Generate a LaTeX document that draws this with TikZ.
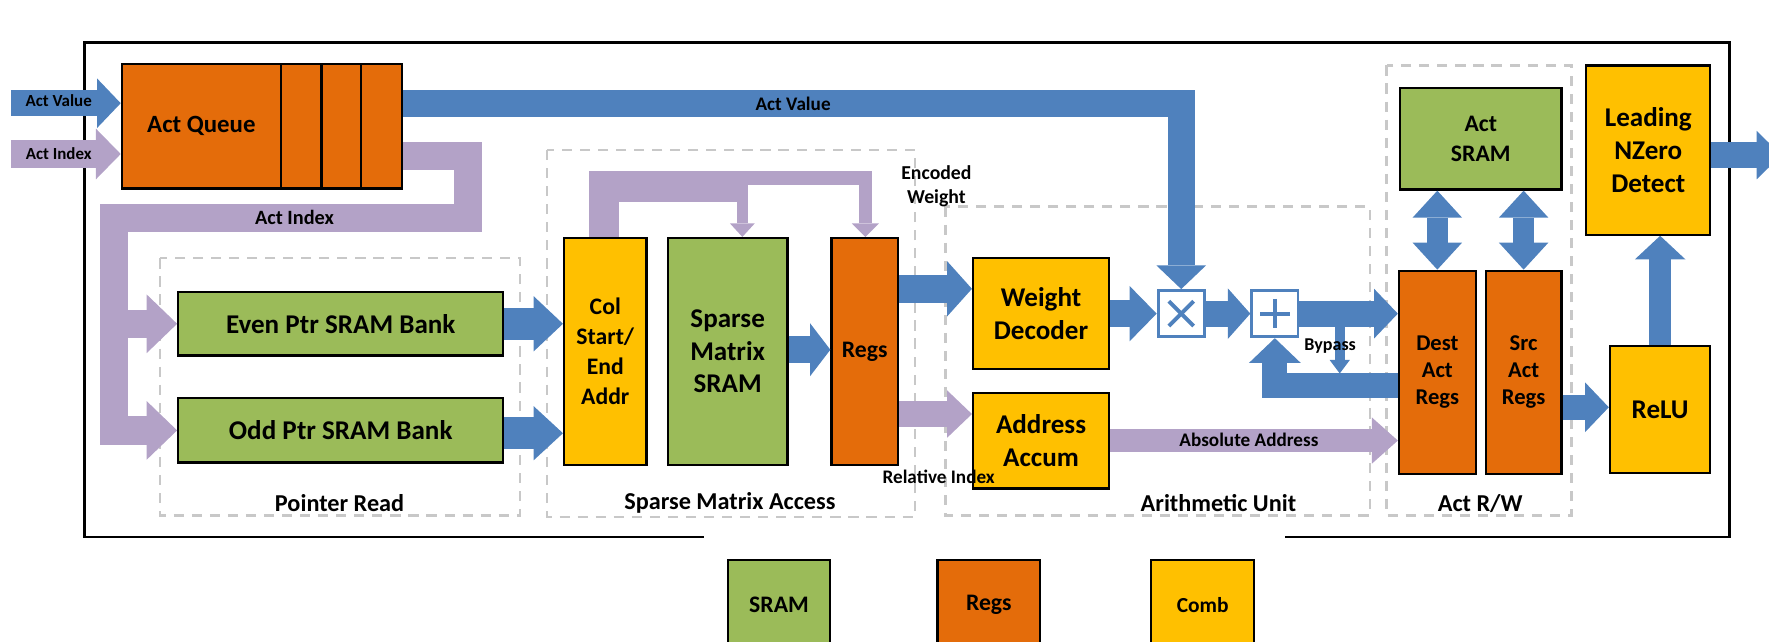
\documentclass[tikz,border=0pt]{standalone}
\usepackage{fontspec}
\setmainfont{Carlito}
\usetikzlibrary{arrows.meta}
\definecolor{cblue}{HTML}{4F81BD}
\definecolor{cpurp}{HTML}{B3A2C7}
\definecolor{corange}{HTML}{E46C0A}
\definecolor{cgreen}{HTML}{9BBB59}
\definecolor{cyellow}{HTML}{FFC000}
\definecolor{cdash}{HTML}{C8C8C8}
\newcommand\fz[2]{\fontsize{#1pt}{#2pt}\selectfont\bfseries}
\tikzset{
  blk/.style={draw=black, line width=2pt, inner sep=0pt, align=center, text=black},
  sramb/.style={blk, fill=cgreen},
  regb/.style={blk, fill=corange},
  combb/.style={blk, fill=cyellow},
  grp/.style={draw=cdash, line width=2pt, dash pattern=on 9pt off 7pt},
  bflow/.style={draw=cblue},
  pflow/.style={draw=cpurp},
  fat/.style n args={3}{line width=#1pt, -{Triangle[length=#2pt,width=#3pt,line width=0pt]}},
  fatboth/.style n args={3}{line width=#1pt, {Triangle[length=#2pt,width=#3pt,line width=0pt]}-{Triangle[length=#2pt,width=#3pt,line width=0pt]}},
  lbl/.style={inner sep=0pt, align=center, text=black},
  opbox/.style={draw=cblue, line width=2.5pt, fill=white, minimum size=41pt, inner sep=0pt},
  opsym/.style={draw=cblue, line width=3.5pt},
}
\begin{document}
\begin{tikzpicture}[x=1pt, y=-1pt]
\useasboundingbox (0,0) rectangle (1568,569);

% outer frame
\draw[line width=2.5pt] (624,476) -- (75,476) -- (75,38) -- (1533,38) -- (1533,476) -- (1139,476);

% groups
\draw[grp] (142,229) rectangle (461,457);
\draw[grp] (485,133) rectangle (811,458);
\draw[grp] (838,183) rectangle (1214,457);
\draw[grp] (1229,58) rectangle (1393,457);
\node[lbl, font={\fz{21.5}{24}}] (gptr) at (301,446) {Pointer Read};
\node[lbl, font={\fz{21.5}{24}}] (gsma) at (647,446) {Sparse Matrix Access};
\node[lbl, font={\fz{21.5}{24}}] (garu) at (1080,446) {Arithmetic Unit};
\node[lbl, font={\fz{21.5}{24}}] (garw) at (1312,446) {Act R/W};

% blocks
\node[regb, minimum width=141pt, minimum height=110pt, font={\fz{22}{26}}] (qmain) at (178.5,112) {Act Queue};
\node[regb, minimum width=36pt, minimum height=110pt] (q1) at (267,112) {};
\node[regb, minimum width=35pt, minimum height=110pt] (q2) at (302.5,112) {};
\node[regb, minimum width=36pt, minimum height=110pt] (q3) at (338,112) {};

\node[sramb, minimum width=288pt, minimum height=56pt, font={\fz{24}{28}}] (even) at (302,287) {Even Ptr SRAM Bank};
\node[sramb, minimum width=288pt, minimum height=57pt, font={\fz{24}{28}}] (odd) at (302,381.5) {Odd Ptr SRAM Bank};

\node[combb, minimum width=73pt, minimum height=201pt, font={\fz{21}{26.6}}] (col) at (536.5,311.5) {Col\\Start/\\End\\Addr};
\node[sramb, minimum width=106pt, minimum height=201pt, font={\fz{24}{28.7}}] (smsram) at (645,311.5) {Sparse\\Matrix\\SRAM};
\node[regb, minimum width=59pt, minimum height=201pt, font={\fz{21}{26}}] (regs) at (766.5,311.5) {Regs};

\node[combb, minimum width=120.5pt, minimum height=98pt, font={\fz{24}{29.5}}] (wdec) at (922.75,278) {Weight\\Decoder};
\node[combb, minimum width=120.5pt, minimum height=84.5pt, font={\fz{24}{29.5}}] (aacc) at (922.75,390.75) {Address\\Accum};

\node[opbox] (mul) at (1047,278) {};
\node[opbox] (add) at (1130,278) {};
\draw[opsym] ([shift={(-11,-11)}]mul.center) -- ([shift={(11,11)}]mul.center);
\draw[opsym] ([shift={(-11,11)}]mul.center) -- ([shift={(11,-11)}]mul.center);
\draw[opsym] ([shift={(-13,0)}]add.center) -- ([shift={(13,0)}]add.center);
\draw[opsym] ([shift={(0,-13)}]add.center) -- ([shift={(0,13)}]add.center);

\node[regb, minimum width=68pt, minimum height=180pt, font={\fz{20}{24}}] (dest) at (1274,330) {Dest\\Act\\Regs};
\node[regb, minimum width=67pt, minimum height=180pt, font={\fz{20}{24}}] (src) at (1350.5,330) {Src\\Act\\Regs};
\node[sramb, minimum width=143pt, minimum height=90pt, font={\fz{21}{27}}] (actsram) at (1312.5,123) {Act\\SRAM};
\node[combb, minimum width=110pt, minimum height=150pt, font={\fz{24}{29.5}}] (lnzd) at (1461,133) {Leading\\NZero\\Detect};
\node[combb, minimum width=89pt, minimum height=112pt, font={\fz{24}{28}}] (relu) at (1471.5,363) {ReLU};

% legend
\node[sramb, minimum width=91pt, minimum height=79pt, font={\fz{21}{24}}] (lsram) at (690.5,536) {SRAM};
\node[regb, minimum width=91pt, minimum height=79pt, font={\fz{21}{24}}] (lregs) at (876.5,536) {Regs};
\node[combb, minimum width=91pt, minimum height=79pt, font={\fz{19}{24}}] (lcomb) at (1066,536) {Comb};

% inputs
\coordinate (inV) at (10,91.5);
\coordinate (inI) at (10,136.5);
\draw[bflow, fat={23}{21}{44}] (inV) -- (qmain.west |- inV);
\draw[pflow, fat={25}{22}{45}] (inI) -- (qmain.west |- inI);

% act value to multiplier
\draw[bflow, fat={24}{21}{44}] (q3.east |- 0,92) -- (mul.north |- 0,92) -- (mul.north);

% act index to pointer banks
\draw[pflow, fat={25}{27}{52}] (q3.east |- 0,138) -- (415,138) -- (415,193) -- (101,193) -- (101,0 |- odd.west) -- (odd.west);
\coordinate (jn) at (101,287);
\draw[pflow, fat={25}{27}{52}] (jn) -- (even.west);

% pointer banks to col addr
\draw[bflow, fat={28}{26}{49}] (even.east) -- (col.west |- even.east);
\draw[bflow, fat={28}{26}{48}] (odd.east |- 0,384) -- (col.west |- 0,384);

% purple loop
\draw[pflow, line width=27pt] (535.5,0 |- col.north) -- (535.5,165.5) -- (663,165.5);
\draw[pflow, fat={12}{12}{24}] (653,158) -- (767,158) -- (767,0 |- regs.north);
\draw[pflow, fat={10}{12}{22}] (658,164) -- (658,0 |- smsram.north);

% SRAM to regs
\draw[bflow, fat={24}{18}{47}] (smsram.east |- 0,310) -- (regs.west |- 0,310);

% regs to arithmetic
\draw[bflow, fat={25}{22}{49}] (regs.east |- 0,256) -- (wdec.west |- 0,256);
\draw[pflow, fat={23}{22}{42}] (regs.east |- 0,367) -- (aacc.west |- 0,367);

\draw[bflow, fat={24}{24}{49}] (wdec.east |- mul.west) -- (mul.west);
\draw[bflow, fat={23}{20}{45}] (mul.east) -- (add.west);
\draw[bflow, fat={23}{21}{44}] (add.east) -- (dest.west |- add.east);

% feedback
\draw[bflow, fat={22}{22}{46}] (dest.west |- 0,341.5) -- (add.south |- 0,341.5) -- (add.south);
\coordinate (bp1) at (1187.5,289);
\coordinate (bp2) at (1187.5,331);
\draw[bflow, fat={9}{12}{18}] (bp1) -- (bp2);

% absolute address
\draw[pflow, fat={20}{23}{41}] (aacc.east |- 0,390.5) -- (dest.west |- 0,390.5);

% act sram <-> regs
\draw[bflow, fatboth={19}{24}{44}] (dest.north |- actsram.south) -- (dest.north);
\draw[bflow, fatboth={19}{24}{44}] (src.north |- actsram.south) -- (src.north);

% src -> relu -> lnzd -> out
\draw[bflow, fat={22}{21}{44}] (src.east |- 0,361) -- (relu.west |- 0,361);
\draw[bflow, fat={20}{21}{45}] (relu.north) -- (relu.north |- lnzd.south);
\coordinate (outp) at (1579,137.5);
\draw[bflow, fat={23}{22}{43}] (lnzd.east |- outp) -- (outp);

% labels
\node[lbl, font={\fz{15}{18}}] (tinv) at (52,89) {Act Value};
\node[lbl, font={\fz{15}{18}}] (tini) at (52,136) {Act Index};
\node[lbl, font={\fz{17}{20}}] (tav) at (703,92) {Act Value};
\node[lbl, font={\fz{18}{20}}] (tai) at (261,193) {Act Index};
\node[lbl, font={\fz{17.5}{21}}] (tew) at (830,165) {Encoded\\Weight};
\node[lbl, font={\fz{17}{20}}] (tri) at (832,423) {Relative Index};
\node[lbl, font={\fz{16}{18}}] (tbp) at (1179,307) {Bypass};
\node[lbl, font={\fz{17}{20}}] (taa) at (1107,390) {Absolute Address};
\end{tikzpicture}
\end{document}
